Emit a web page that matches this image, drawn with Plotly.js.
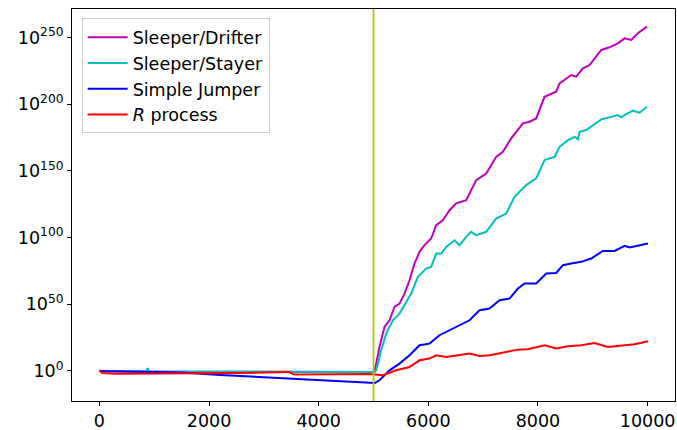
<!DOCTYPE html>
<html>
<head>
<meta charset="utf-8">
<script src="https://cdn.plot.ly/plotly-3.0.1.min.js"></script>
<style>html,body{margin:0;padding:0;background:#fff;}#chart{width:677px;height:430px;}</style>
</head>
<body>
<div id="chart"></div>
<script>
// Values are log10 of the plotted quantity (y axis is logarithmic, shown as 10^k)
const driftX = [0, 500, 1500, 2500, 3500, 4500, 5000, 5018, 5109, 5201, 5292, 5383, 5474, 5566, 5657, 5748, 5839, 5931, 6052, 6143, 6265, 6387, 6509, 6691, 6752, 6873, 7056, 7238, 7360, 7512, 7725, 7847, 7968, 8120, 8333, 8394, 8607, 8698, 8820, 8942, 9155, 9307, 9458, 9580, 9702, 9823, 9988];
const driftY = [0, -0.4, -0.5, -0.6, -0.7, -0.7, -0.7, -0.7, 18, 33, 38, 48, 50.5, 58, 68, 80.5, 89.3, 94.3, 99.3, 109.3, 113, 120.5, 125.6, 128, 133, 143, 148, 160.5, 164.3, 174.3, 185.6, 186.8, 189.3, 205.5, 209.3, 215.6, 221.8, 220.6, 226.8, 229.3, 240.6, 242.6, 245.6, 249.3, 248.1, 253.1, 258.1];

const stayX = [0, 500, 850, 880, 910, 1500, 2500, 3500, 4500, 5000, 5049, 5140, 5231, 5353, 5474, 5596, 5687, 5809, 5961, 6052, 6143, 6235, 6326, 6478, 6569, 6691, 6782, 6873, 7056, 7238, 7421, 7573, 7786, 7968, 8120, 8303, 8394, 8546, 8668, 8729, 8759, 8881, 9003, 9155, 9307, 9458, 9519, 9611, 9732, 9854, 9988];
const stayY = [0, -0.3, -0.3, 2, -0.3, -0.5, -0.6, -0.7, -0.7, -0.7, 0.5, 15.5, 28, 38, 43, 51.8, 58, 70.5, 76.8, 78, 88, 88, 93, 98, 94.3, 100.5, 104.3, 101.8, 104.3, 114.3, 118, 130.5, 139.3, 144.3, 158, 160.5, 168, 173, 175.5, 173.6, 179.3, 180.6, 184.3, 188.6, 190.1, 191.8, 190.1, 192.6, 195.1, 193.6, 198];

const jumpX = [0, 500, 1500, 2200, 3000, 3700, 4250, 5000, 5024, 5109, 5292, 5474, 5657, 5839, 6022, 6204, 6387, 6569, 6752, 6934, 7117, 7299, 7482, 7634, 7755, 7968, 8151, 8333, 8455, 8607, 8790, 8972, 9185, 9398, 9580, 9672, 9823, 10006];
const jumpY = [0, -0.5, -1.2, -3, -4.8, -6.3, -7.5, -8.8, -9, -7, 0.5, 5.5, 11.8, 19.3, 20.5, 26.8, 30.5, 34.3, 38, 45.5, 46.8, 53, 54.3, 61.8, 65.6, 65.6, 73, 73.5, 79.3, 80.5, 81.8, 84.3, 90, 90, 93.8, 92.5, 93.8, 95.6];

const rprocX = [0, 50, 300, 1800, 2600, 3450, 3550, 4325, 4927, 5170, 5414, 5657, 5839, 6022, 6143, 6326, 6509, 6752, 6934, 7117, 7421, 7634, 7816, 8120, 8333, 8546, 8790, 9033, 9276, 9519, 9762, 10006];
const rprocY = [0.5, -1.5, -2, -2, -1.5, -0.7, -2.7, -2.5, -2.2, -3.2, 0.5, 3, 8, 9.3, 11.8, 10.5, 11.8, 13, 11.3, 11.8, 14.3, 16, 16.3, 19.3, 16.8, 18.5, 19.3, 21, 18, 19, 20, 22.3];

const seriesNames = ["Sleeper/Drifter", "Sleeper/Stayer", "Simple Jumper", "<i>R</i> process"];
const xTicks = [0, 2000, 4000, 6000, 8000, 10000];
const yTickExp = [0, 50, 100, 150, 200, 250];
const yTickText = yTickExp.map(k => "10<sup>" + k + "</sup>");
const changePoint = 5000;

const colors = ["#bf00bf", "#00bfbf", "#0000ff", "#ff0000"];
const xs = [driftX, stayX, jumpX, rprocX];
const ys = [driftY, stayY, jumpY, rprocY];

const traces = xs.map((x, i) => ({
  x: x, y: ys[i], type: "scatter", mode: "lines", name: seriesNames[i],
  line: {color: colors[i], width: 2}
}));

const font = {family: "DejaVu Sans, sans-serif", size: 17.5, color: "#000"};
const layout = {
  width: 677, height: 430,
  margin: {l: 72, r: 2, t: 9, b: 29, pad: 0},
  paper_bgcolor: "#fff", plot_bgcolor: "#fff",
  font: font,
  showlegend: true,
  legend: {x: 0.016, y: 0.976, xanchor: "left", yanchor: "top", itemwidth: 40,
    bgcolor: "rgba(255,255,255,0.8)", bordercolor: "#cccccc", borderwidth: 1,
    font: {family: "DejaVu Sans, sans-serif", size: 17.5, color: "#000"}},
  xaxis: {range: [-500, 10500], tickvals: xTicks, ticktext: xTicks.map(String),
    ticks: "outside", ticklen: 4, tickwidth: 1, tickcolor: "#000",
    showline: true, mirror: true, linecolor: "#000", linewidth: 1,
    showgrid: false, zeroline: false, tickfont: font},
  yaxis: {range: [-22.5, 271.3], tickvals: yTickExp, ticktext: yTickText,
    ticks: "outside", ticklen: 4, tickwidth: 1, tickcolor: "#000",
    showline: true, mirror: true, linecolor: "#000", linewidth: 1,
    showgrid: false, zeroline: false, tickfont: font},
  shapes: [{type: "line", xref: "x", yref: "paper", x0: changePoint, x1: changePoint, y0: 0, y1: 1,
    line: {color: "#bfbf00", width: 1.8}}]
};

Plotly.newPlot("chart", traces, layout, {displayModeBar: false, staticPlot: true});
</script>
</body>
</html>
